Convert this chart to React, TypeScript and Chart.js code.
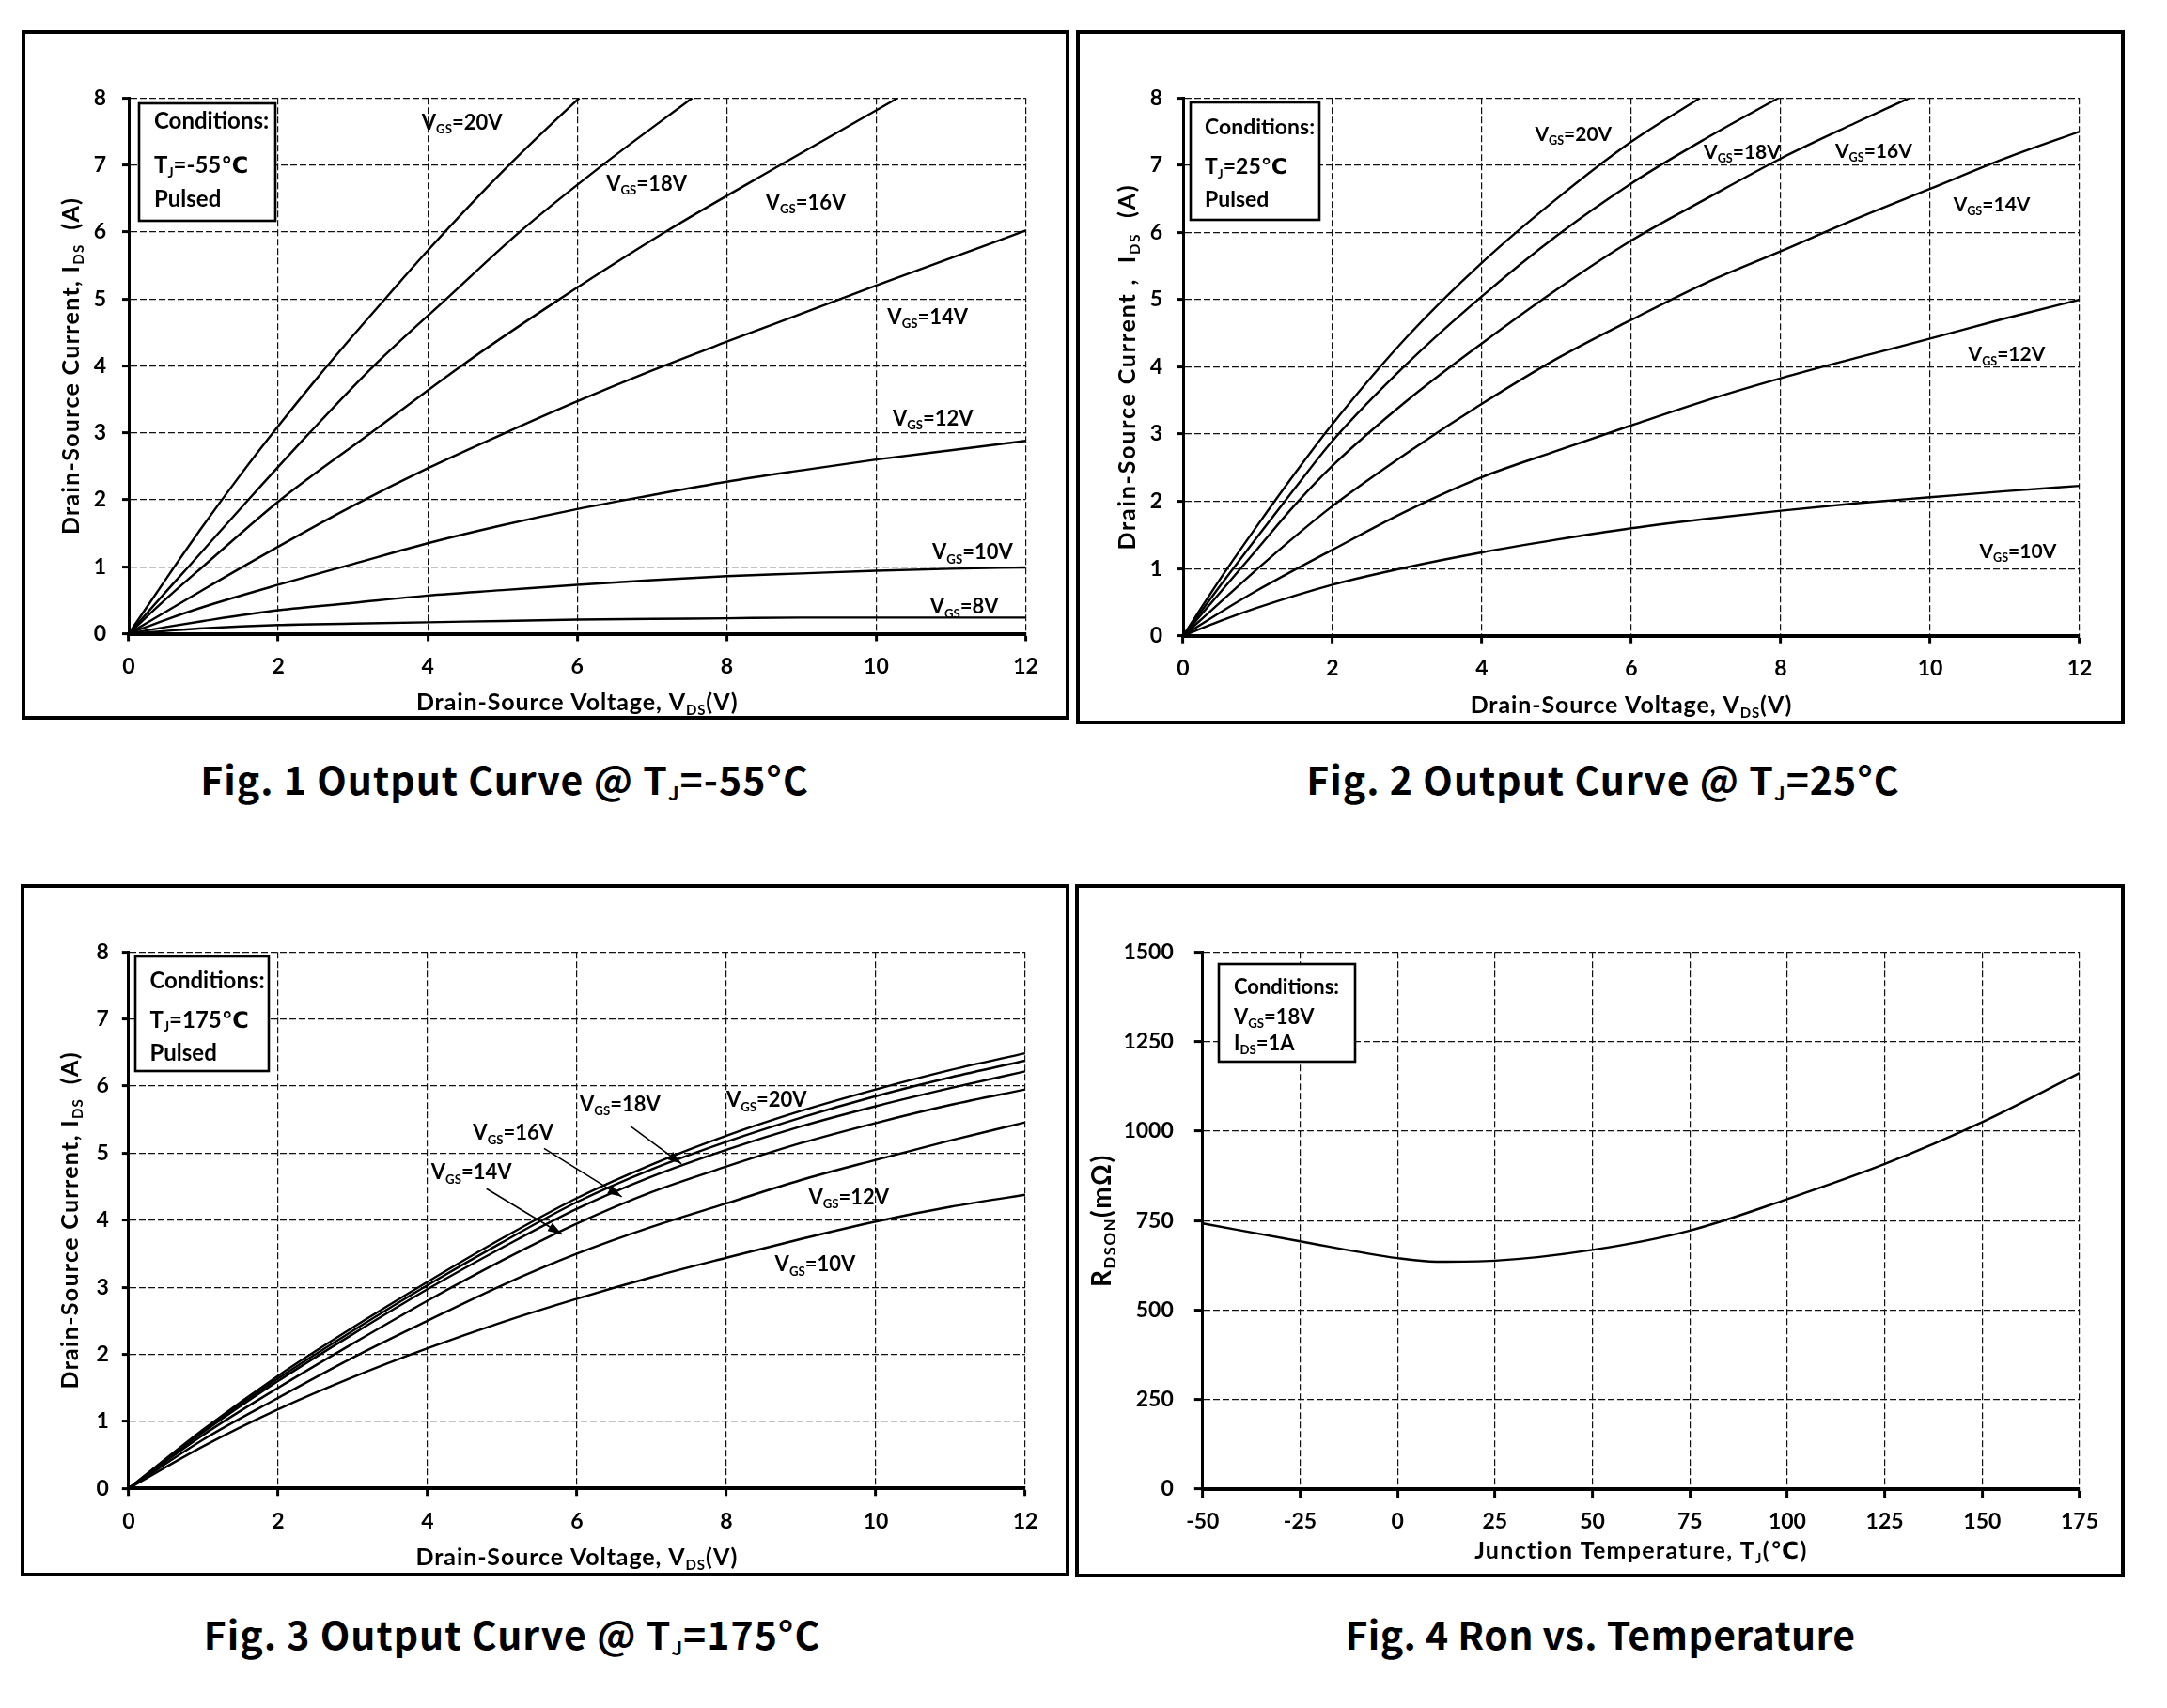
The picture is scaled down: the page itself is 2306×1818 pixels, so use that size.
import React, { useEffect, useRef } from 'react';
import { Chart, registerables } from 'chart.js';

Chart.register(...registerables);

type Pt = [number, number];

// ---------- Fig. 1 : Output curve @ TJ = -55 °C  (VDS [V], IDS [A]) ----------
const fig1Vgs20: Pt[] = [[0, 0], [0.5, 0.82], [1, 1.62], [1.5, 2.38], [2, 3.1], [2.5, 3.79], [3, 4.45], [3.5, 5.09], [4, 5.72], [5, 6.9], [6, 7.97], [6.03, 8]];
const fig1Vgs18: Pt[] = [[0, 0], [0.5, 0.63], [0.8, 1], [1.6, 2], [2.42, 3], [3.28, 4], [4.25, 5], [5.23, 6], [6.34, 7], [7.54, 8]];
const fig1Vgs16: Pt[] = [[0, 0], [0.5, 0.52], [0.99, 1], [2.03, 2], [3.24, 3], [4.45, 4], [5.77, 5], [7.18, 6], [8.72, 7], [10.29, 8]];
const fig1Vgs14: Pt[] = [[0, 0], [1, 0.66], [2, 1.3], [3, 1.91], [4, 2.47], [5, 2.98], [6, 3.47], [7, 3.93], [8, 4.36], [9, 4.78], [10, 5.2], [11, 5.61], [12, 6.02]];
const fig1Vgs12: Pt[] = [[0, 0], [0.5, 0.21], [1, 0.4], [2, 0.73], [3, 1.04], [4, 1.35], [5, 1.62], [6, 1.86], [7, 2.07], [8, 2.27], [9, 2.44], [10, 2.6], [11, 2.74], [12, 2.88]];
const fig1Vgs10: Pt[] = [[0, 0], [0.5, 0.1], [1, 0.19], [2, 0.35], [3, 0.46], [4, 0.57], [5, 0.65], [6, 0.73], [7, 0.8], [8, 0.86], [9, 0.9], [10, 0.94], [11, 0.97], [12, 0.99]];
const fig1Vgs8: Pt[] = [[0, 0], [0.5, 0.04], [1, 0.08], [2, 0.13], [3, 0.15], [4, 0.17], [5, 0.19], [6, 0.21], [7, 0.22], [8, 0.23], [9, 0.24], [10, 0.24], [11, 0.24], [12, 0.24]];

// ---------- Fig. 2 : Output curve @ TJ = 25 °C ----------
const fig2Vgs20: Pt[] = [[0, 0], [0.5, 0.85], [1, 1.65], [1.5, 2.42], [2, 3.15], [3, 4.45], [4, 5.55], [5, 6.5], [6, 7.35], [6.92, 8]];
const fig2Vgs18: Pt[] = [[0, 0], [0.5, 0.75], [1, 1.48], [1.5, 2.2], [2, 2.9], [3, 4.05], [4, 5.05], [5, 5.95], [6, 6.73], [7, 7.4], [7.97, 8]];
const fig2Vgs16: Pt[] = [[0, 0], [0.5, 0.65], [1, 1.3], [1.5, 1.95], [2, 2.53], [3, 3.5], [4, 4.35], [5, 5.15], [6, 5.88], [7, 6.5], [8, 7.1], [9, 7.63], [9.72, 8]];
const fig2Vgs14: Pt[] = [[0, 0], [0.5, 0.5], [1, 1.0], [1.5, 1.48], [2, 1.93], [3, 2.72], [4, 3.45], [5, 4.12], [6, 4.7], [7, 5.25], [8, 5.72], [9, 6.2], [10, 6.65], [11, 7.1], [12, 7.5]];
const fig2Vgs12: Pt[] = [[0, 0], [0.5, 0.35], [1, 0.68], [2, 1.28], [3, 1.86], [4, 2.36], [5, 2.75], [6, 3.13], [7, 3.5], [8, 3.83], [9, 4.13], [10, 4.42], [11, 4.72], [12, 5.0]];
const fig2Vgs10: Pt[] = [[0, 0], [0.5, 0.22], [1, 0.42], [2, 0.76], [3, 1.02], [4, 1.24], [5, 1.43], [6, 1.6], [7, 1.74], [8, 1.86], [9, 1.97], [10, 2.06], [11, 2.15], [12, 2.23]];

// ---------- Fig. 3 : Output curve @ TJ = 175 °C ----------
const fig3Vgs20: Pt[] = [[0, 0], [1, 0.88], [2, 1.68], [3, 2.4], [4, 3.08], [5, 3.73], [6, 4.33], [7, 4.83], [8, 5.26], [9, 5.63], [10, 5.95], [11, 6.24], [12, 6.49]];
const fig3Vgs18: Pt[] = [[0, 0], [1, 0.86], [2, 1.64], [3, 2.35], [4, 3.03], [5, 3.67], [6, 4.27], [7, 4.76], [8, 5.17], [9, 5.53], [10, 5.85], [11, 6.13], [12, 6.38]];
const fig3Vgs16: Pt[] = [[0, 0], [1, 0.84], [2, 1.6], [3, 2.3], [4, 2.97], [5, 3.59], [6, 4.17], [7, 4.65], [8, 5.05], [9, 5.4], [10, 5.7], [11, 5.97], [12, 6.22]];
const fig3Vgs14: Pt[] = [[0, 0], [1, 0.8], [2, 1.5], [3, 2.16], [4, 2.8], [5, 3.4], [6, 3.95], [7, 4.42], [8, 4.8], [9, 5.15], [10, 5.45], [11, 5.72], [12, 5.95]];
const fig3Vgs12: Pt[] = [[0, 0], [1, 0.73], [2, 1.35], [3, 1.95], [4, 2.5], [5, 3.03], [6, 3.5], [7, 3.9], [8, 4.25], [9, 4.6], [10, 4.9], [11, 5.19], [12, 5.46]];
const fig3Vgs10: Pt[] = [[0, 0], [1, 0.63], [2, 1.18], [3, 1.66], [4, 2.09], [5, 2.48], [6, 2.83], [7, 3.15], [8, 3.44], [9, 3.72], [10, 3.98], [11, 4.2], [12, 4.38]];

// ---------- Fig. 4 : Ron vs temperature ----------
const fig4TempC = [-50, -25, 0, 10, 25, 50, 75, 100, 125, 150, 175];
const fig4RonMOhm = [742, 692, 645, 635, 638, 668, 722, 810, 908, 1025, 1162];

// ---------- tick values ----------
const vdsTicks = [0, 2, 4, 6, 8, 10, 12];
const idsTicks = [0, 1, 2, 3, 4, 5, 6, 7, 8];
const tempTicks = [-50, -25, 0, 25, 50, 75, 100, 125, 150, 175];
const ronTicks = [0, 250, 500, 750, 1000, 1250, 1500];

// ---------- curve labels (data units: left edge, cap centre) ----------
const fig1Labels = [
  { text: 'V_{GS}=20V', x: 3.92, y: 7.64 },
  { text: 'V_{GS}=18V', x: 6.39, y: 6.73 },
  { text: 'V_{GS}=16V', x: 8.52, y: 6.45 },
  { text: 'V_{GS}=14V', x: 10.15, y: 4.74 },
  { text: 'V_{GS}=12V', x: 10.22, y: 3.22 },
  { text: 'V_{GS}=10V', x: 10.75, y: 1.22 },
  { text: 'V_{GS}=8V', x: 10.72, y: 0.41 },
];
const fig2Labels = [
  { text: 'V_{GS}=20V', x: 4.71, y: 7.47 },
  { text: 'V_{GS}=18V', x: 6.97, y: 7.2 },
  { text: 'V_{GS}=16V', x: 8.73, y: 7.22 },
  { text: 'V_{GS}=14V', x: 10.31, y: 6.42 },
  { text: 'V_{GS}=12V', x: 10.51, y: 4.19 },
  { text: 'V_{GS}=10V', x: 10.66, y: 1.26 },
];
const fig3Labels = [
  { text: 'V_{GS}=20V', x: 8.0, y: 5.8 },
  { text: 'V_{GS}=18V', x: 6.04, y: 5.74 },
  { text: 'V_{GS}=16V', x: 4.61, y: 5.31 },
  { text: 'V_{GS}=14V', x: 4.05, y: 4.72 },
  { text: 'V_{GS}=12V', x: 9.1, y: 4.35 },
  { text: 'V_{GS}=10V', x: 8.65, y: 3.35 },
];
const fig3Arrows = [
  { x1: 4.79, y1: 4.47, x2: 5.8, y2: 3.79 },
  { x1: 5.56, y1: 5.07, x2: 6.6, y2: 4.35 },
  { x1: 6.72, y1: 5.4, x2: 7.4, y2: 4.84 },
];

const FONT = 'Lato, "DejaVu Sans", sans-serif';
const BW = 4;

type Seg = [string, boolean];
function parseRich(s: string): Seg[] {
  const out: Seg[] = [];
  const re = /_\{([^}]*)\}/g;
  let last = 0;
  let m: RegExpExecArray | null;
  while ((m = re.exec(s))) {
    if (m.index > last) out.push([s.slice(last, m.index), false]);
    out.push([m[1], true]);
    last = m.index + m[0].length;
  }
  if (last < s.length) out.push([s.slice(last), false]);
  return out;
}

function drawRich(ctx: CanvasRenderingContext2D, text: string, x: number, baseline: number, size: number, align: 'left' | 'center', spacing = 0) {
  const segs = parseRich(text);
  const sub = size * 0.6;
  const c: any = ctx;
  c.letterSpacing = `${spacing}px`;
  let total = 0;
  const widths = segs.map(([t, s]) => {
    ctx.font = `bold ${s ? sub : size}px ${FONT}`;
    const w = ctx.measureText(t).width;
    total += w;
    return w;
  });
  let cx = align === 'center' ? x - total / 2 : x;
  ctx.textAlign = 'left';
  ctx.textBaseline = 'alphabetic';
  segs.forEach(([t, s], i) => {
    ctx.font = `bold ${s ? sub : size}px ${FONT}`;
    ctx.fillText(t, cx, s ? baseline + size * 0.2 : baseline);
    cx += widths[i];
  });
  c.letterSpacing = '0px';
}

interface Lbl { text: string; x: number; y: number }
interface Arrow { x1: number; y1: number; x2: number; y2: number }
interface Cond { l: number; t: number; w: number; h: number; x: number; size: number; lines: { text: string; y: number }[] }
interface PanelCfg {
  box: { l: number; t: number; w: number; h: number };
  plot: { l: number; t: number; r: number; b: number };
  xRange: [number, number]; yRange: [number, number];
  xTicks: number[]; yTicks: number[];
  series: Pt[][];
  labels: Lbl[]; labelSize: number;
  arrows: Arrow[];
  cond: Cond;
  xTitle: string; yTitle: string; xTitleOff: number; yTitleOff: number;
  xTitleSize: number; yTitleSize: number; xTitleSp: number; yTitleSp: number;
  xTickLen: number; xTickPad: number; yTickLen: number; yTickPad: number;
  caption: string; capX: number; capBaseline: number; capSp: number;
}

const toXY = (s: Pt[]) => s.map(([x, y]) => ({ x, y }));

const panels: PanelCfg[] = [
  {
    box: { l: 23, t: 32, w: 1115, h: 734 },
    plot: { l: 137, t: 104.3, r: 1091.5, b: 674.5 },
    xRange: [0, 12], yRange: [0, 8], xTicks: vdsTicks, yTicks: idsTicks,
    series: [fig1Vgs20, fig1Vgs18, fig1Vgs16, fig1Vgs14, fig1Vgs12, fig1Vgs10, fig1Vgs8],
    labels: fig1Labels, labelSize: 22, arrows: [],
    cond: { l: 148, t: 110, w: 145, h: 125, x: 164, size: 24, lines: [{ text: 'Conditions:', y: 128.5 }, { text: 'T_{J}=-55℃', y: 175.7 }, { text: 'Pulsed', y: 211 }] },
    xTitle: 'Drain-Source Voltage, V_{DS}(V)', yTitle: 'Drain-Source Current, I_{DS}  (A)', xTitleOff: 72, yTitleOff: 62,
    xTitleSize: 25, yTitleSize: 25, xTitleSp: 0.9, yTitleSp: 1.3,
    xTickLen: 8, xTickPad: 13, yTickLen: 7, yTickPad: 17,
    caption: 'Fig. 1 Output Curve @ T_{J}=-55°C', capX: 537, capBaseline: 846, capSp: 1,
  },
  {
    box: { l: 1145, t: 32, w: 1116, h: 739 },
    plot: { l: 1259, t: 104.3, r: 2213, b: 676.7 },
    xRange: [0, 12], yRange: [0, 8], xTicks: vdsTicks, yTicks: idsTicks,
    series: [fig2Vgs20, fig2Vgs18, fig2Vgs16, fig2Vgs14, fig2Vgs12, fig2Vgs10],
    labels: fig2Labels, labelSize: 21, arrows: [],
    cond: { l: 1267, t: 109, w: 137, h: 125, x: 1282, size: 23, lines: [{ text: 'Conditions:', y: 135 }, { text: 'T_{J}=25℃', y: 176.7 }, { text: 'Pulsed', y: 211.7 }] },
    xTitle: 'Drain-Source Voltage, V_{DS}(V)', yTitle: 'Drain-Source Current ,  I_{DS}  (A)', xTitleOff: 73, yTitleOff: 60,
    xTitleSize: 25, yTitleSize: 25, xTitleSp: 0.9, yTitleSp: 1.8,
    xTickLen: 8, xTickPad: 13, yTickLen: 7, yTickPad: 15,
    caption: 'Fig. 2 Output Curve @ T_{J}=25°C', capX: 1706, capBaseline: 846, capSp: 1,
  },
  {
    box: { l: 22, t: 941, w: 1116, h: 737 },
    plot: { l: 136.8, t: 1013.3, r: 1091, b: 1584.3 },
    xRange: [0, 12], yRange: [0, 8], xTicks: vdsTicks, yTicks: idsTicks,
    series: [fig3Vgs20, fig3Vgs18, fig3Vgs16, fig3Vgs14, fig3Vgs12, fig3Vgs10],
    labels: fig3Labels, labelSize: 22, arrows: fig3Arrows,
    cond: { l: 144, t: 1018, w: 142, h: 122, x: 159.5, size: 24, lines: [{ text: 'Conditions:', y: 1043.3 }, { text: 'T_{J}=175℃', y: 1085 }, { text: 'Pulsed', y: 1120 }] },
    xTitle: 'Drain-Source Voltage, V_{DS}(V)', yTitle: 'Drain-Source Current, I_{DS}  (A)', xTitleOff: 73, yTitleOff: 63,
    xTitleSize: 25, yTitleSize: 25, xTitleSp: 0.9, yTitleSp: 1.3,
    xTickLen: 8, xTickPad: 13, yTickLen: 7, yTickPad: 14,
    caption: 'Fig. 3 Output Curve @ T_{J}=175°C', capX: 545, capBaseline: 1756, capSp: 1,
  },
  {
    box: { l: 1144, t: 941, w: 1117, h: 738 },
    plot: { l: 1279.8, t: 1013.3, r: 2213, b: 1585 },
    xRange: [-50, 175], yRange: [0, 1500], xTicks: tempTicks, yTicks: ronTicks,
    series: [fig4TempC.map((t, i) => [t, fig4RonMOhm[i]] as Pt)],
    labels: [], labelSize: 22, arrows: [],
    cond: { l: 1297, t: 1026, w: 145, h: 104, x: 1313, size: 22, lines: [{ text: 'Conditions:', y: 1050 }, { text: 'V_{GS}=18V', y: 1081.7 }, { text: 'I_{DS}=1A', y: 1110 }] },
    xTitle: 'Junction Temperature, T_{J}(℃)', yTitle: 'R_{DSON}(mΩ)', xTitleOff: 65, yTitleOff: 108,
    xTitleSize: 25, yTitleSize: 28, xTitleSp: 1.3, yTitleSp: 1.5,
    xTickLen: 9, xTickPad: 12, yTickLen: 9, yTickPad: 22,
    caption: 'Fig. 4 Ron vs. Temperature', capX: 1703, capBaseline: 1756, capSp: 0.4,
  },
];

function drawOverlay(chart: any, cfg: PanelCfg) {
  const ctx: CanvasRenderingContext2D = chart.ctx;
  const xs = chart.scales.x;
  const ys = chart.scales.y;
  const ca = chart.chartArea;
  const ox = cfg.box.l + BW;
  const oy = cfg.box.t + BW;
  ctx.save();
  ctx.fillStyle = '#000';
  ctx.strokeStyle = '#000';
  for (const lb of cfg.labels) {
    const px = xs.getPixelForValue(lb.x);
    const py = ys.getPixelForValue(lb.y);
    drawRich(ctx, lb.text, px, py + cfg.labelSize * 0.36, cfg.labelSize, 'left');
  }
  ctx.lineWidth = 1.6;
  for (const a of cfg.arrows) {
    const x1 = xs.getPixelForValue(a.x1), y1 = ys.getPixelForValue(a.y1);
    const x2 = xs.getPixelForValue(a.x2), y2 = ys.getPixelForValue(a.y2);
    ctx.beginPath(); ctx.moveTo(x1, y1); ctx.lineTo(x2, y2); ctx.stroke();
    const ang = Math.atan2(y2 - y1, x2 - x1);
    const L = 15, W = 5;
    ctx.beginPath();
    ctx.moveTo(x2, y2);
    ctx.lineTo(x2 - L * Math.cos(ang) + W * Math.sin(ang), y2 - L * Math.sin(ang) - W * Math.cos(ang));
    ctx.lineTo(x2 - L * Math.cos(ang) - W * Math.sin(ang), y2 - L * Math.sin(ang) + W * Math.cos(ang));
    ctx.closePath();
    ctx.fill();
  }
  const c = cfg.cond;
  ctx.fillStyle = '#fff';
  ctx.fillRect(c.l - ox, c.t - oy, c.w, c.h);
  ctx.lineWidth = 2.6;
  ctx.strokeRect(c.l - ox, c.t - oy, c.w, c.h);
  ctx.fillStyle = '#000';
  for (const ln of c.lines) drawRich(ctx, ln.text, c.x - ox, ln.y - oy + c.size * 0.36, c.size, 'left');
  const cx = (ca.left + ca.right) / 2;
  const cy = (ca.top + ca.bottom) / 2;
  drawRich(ctx, cfg.xTitle, cx, ca.bottom + cfg.xTitleOff + cfg.xTitleSize * 0.36, cfg.xTitleSize, 'center', cfg.xTitleSp);
  ctx.translate(ca.left - cfg.yTitleOff, cy);
  ctx.rotate(-Math.PI / 2);
  drawRich(ctx, cfg.yTitle, 0, cfg.yTitleSize * 0.36, cfg.yTitleSize, 'center', cfg.yTitleSp);
  ctx.restore();
}

function Panel({ cfg }: { cfg: PanelCfg }) {
  const ref = useRef<HTMLCanvasElement>(null);
  const cw = cfg.box.w - 2 * BW;
  const chh = cfg.box.h - 2 * BW;
  useEffect(() => {
    const ox = cfg.box.l + BW;
    const oy = cfg.box.t + BW;
    const yW = cfg.plot.l - ox;
    const xH = oy + chh - cfg.plot.b;
    const padTop = cfg.plot.t - oy;
    const padRight = ox + cw - cfg.plot.r;
    const tickFont = { family: FONT, size: 23, weight: 'bold' as const };
    const grid = { color: '#111', lineWidth: 1.2, tickColor: '#000', tickWidth: 3, drawTicks: true };
    const chart = new Chart(ref.current as HTMLCanvasElement, {
      type: 'scatter',
      data: {
        datasets: cfg.series.map((s) => ({
          data: toXY(s),
          showLine: true,
          borderColor: '#000',
          backgroundColor: '#000',
          borderWidth: 2.4,
          pointRadius: 0,
          cubicInterpolationMode: 'monotone' as const,
        })),
      },
      options: {
        animation: false,
        responsive: false,
        maintainAspectRatio: false,
        devicePixelRatio: 1,
        layout: { padding: { top: padTop, right: padRight, left: 0, bottom: 0 } },
        plugins: { legend: { display: false }, tooltip: { enabled: false } },
        scales: {
          x: {
            type: 'linear',
            min: cfg.xRange[0],
            max: cfg.xRange[1],
            afterBuildTicks: (sc: any) => { sc.ticks = cfg.xTicks.map((v) => ({ value: v })); },
            afterFit: (sc: any) => { sc.height = xH; },
            grid: { ...grid, tickLength: cfg.xTickLen },
            border: { display: true, color: '#000', width: 4, dash: [7, 3] },
            ticks: { color: '#000', font: tickFont, padding: cfg.xTickPad, autoSkip: false, maxRotation: 0, callback: (v: any) => String(v) },
          },
          y: {
            type: 'linear',
            min: cfg.yRange[0],
            max: cfg.yRange[1],
            afterBuildTicks: (sc: any) => { sc.ticks = cfg.yTicks.map((v) => ({ value: v })); },
            afterFit: (sc: any) => { sc.width = yW; },
            grid: { ...grid, tickLength: cfg.yTickLen },
            border: { display: true, color: '#000', width: 3, dash: [7, 3] },
            ticks: { color: '#000', font: tickFont, padding: cfg.yTickPad, autoSkip: false, callback: (v: any) => String(v) },
          },
        },
      },
      plugins: [{ id: 'overlay', afterDraw: (ch: any) => drawOverlay(ch, cfg) }],
    } as any);
    return () => chart.destroy();
  }, []);
  return (
    <div style={{ position: 'absolute', left: cfg.box.l, top: cfg.box.t, width: cfg.box.w, height: cfg.box.h, boxSizing: 'border-box', border: `${BW}px solid #000`, background: '#fff' }}>
      <canvas ref={ref} width={cw} height={chh} style={{ display: 'block', width: cw, height: chh }} />
    </div>
  );
}

function Caption({ cfg }: { cfg: PanelCfg }) {
  const segs = parseRich(cfg.caption);
  return (
    <div style={{ position: 'absolute', left: cfg.capX - 600, width: 1200, top: cfg.capBaseline - 38.4, textAlign: 'center', fontFamily: '"Noto Sans CJK SC", "Noto Sans", sans-serif', fontWeight: 700, fontSize: 41, lineHeight: '41px', letterSpacing: `${cfg.capSp}px`, whiteSpace: 'nowrap', color: '#000' }}>
      {segs.map(([t, s], i) => s
        ? <span key={i} style={{ fontSize: '0.5em', verticalAlign: '-0.3em' }}>{t}</span>
        : <span key={i}>{t}</span>)}
    </div>
  );
}

export default function App() {
  return (
    <div style={{ position: 'absolute', left: 0, top: 0, width: 2306, height: 1818, background: '#fff', overflow: 'hidden' }}>
      {panels.map((p, i) => <Panel key={'p' + i} cfg={p} />)}
      {panels.map((p, i) => <Caption key={'c' + i} cfg={p} />)}
    </div>
  );
}
